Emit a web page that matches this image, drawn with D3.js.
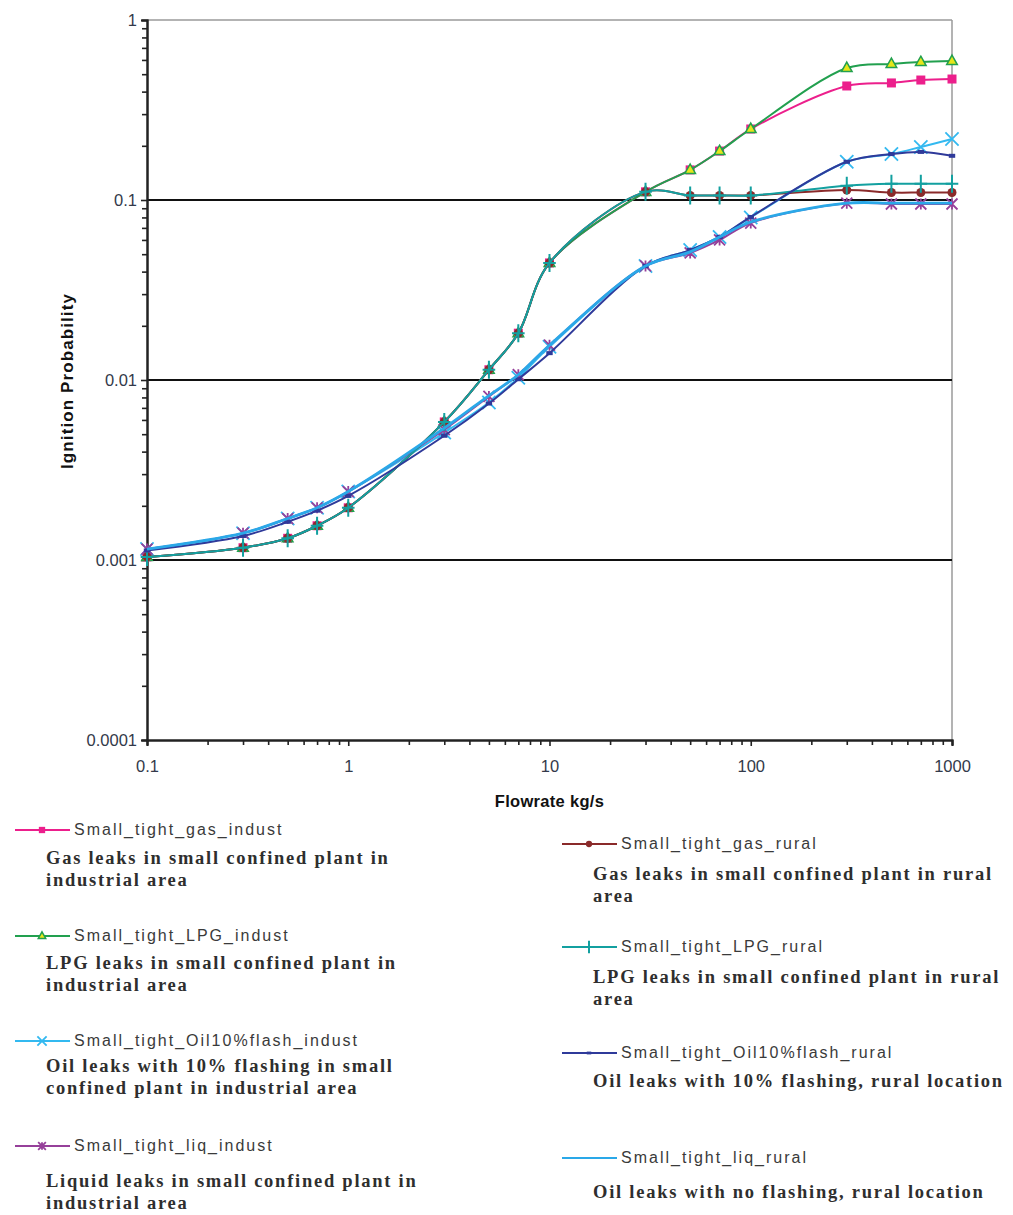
<!DOCTYPE html>
<html>
<head>
<meta charset="utf-8">
<script src="https://cdn.jsdelivr.net/npm/d3@7"></script>
<style>
  body { margin: 0; background: #fff; }
  svg { display: block; }
</style>
</head>
<body>
<div id="chart"></div>
<script>
// Flowrate points (kg/s) shared by every series
const flowrates = [0.1, 0.3, 0.5, 0.7, 1, 3, 5, 7, 10, 30, 50, 70, 100, 300, 500, 700, 1000];

// Ignition probability per series
const gasIndust = [0.00104, 0.00117, 0.00132, 0.00155, 0.00195, 0.00585, 0.0114, 0.0182, 0.0447, 0.111, 0.147, 0.187, 0.248, 0.43, 0.447, 0.464, 0.47];
const lpgIndust = [0.00104, 0.00117, 0.00132, 0.00155, 0.00195, 0.00585, 0.0114, 0.0182, 0.0447, 0.111, 0.147, 0.187, 0.248, 0.541, 0.57, 0.584, 0.592];
const oilIndust = [0.00115, 0.00141, 0.0017, 0.00195, 0.0024, 0.0051, 0.0075, 0.0103, 0.0153, 0.043, 0.0527, 0.0623, 0.08, 0.163, 0.18, 0.197, 0.218];
const liqIndust = [0.00115, 0.00141, 0.0017, 0.00195, 0.0024, 0.0053, 0.0081, 0.0107, 0.0156, 0.043, 0.0508, 0.06, 0.0745, 0.096, 0.095, 0.095, 0.095];
const gasRural = [0.00104, 0.00117, 0.00132, 0.00155, 0.00195, 0.00585, 0.0114, 0.0182, 0.0447, 0.111, 0.106, 0.106, 0.106, 0.1137, 0.11, 0.11, 0.11];
const lpgRural = [0.00104, 0.00117, 0.00132, 0.00155, 0.00195, 0.00585, 0.0114, 0.0182, 0.0447, 0.111, 0.106, 0.106, 0.106, 0.12, 0.123, 0.123, 0.123];
const oilRural = [0.00113, 0.00136, 0.00163, 0.00188, 0.00227, 0.0049, 0.0074, 0.0101, 0.0141, 0.043, 0.0527, 0.0623, 0.0805, 0.163, 0.18, 0.185, 0.176];
const liqRural = [0.00115, 0.00141, 0.0017, 0.00195, 0.0024, 0.0054, 0.0082, 0.0107, 0.0156, 0.043, 0.0515, 0.0623, 0.0755, 0.096, 0.096, 0.096, 0.096];

const seriesValues = [gasIndust, lpgIndust, oilIndust, liqIndust, gasRural, lpgRural, oilRural, liqRural];
const seriesNames = [
  'Small_tight_gas_indust', 'Small_tight_LPG_indust', 'Small_tight_Oil10%flash_indust', 'Small_tight_liq_indust',
  'Small_tight_gas_rural', 'Small_tight_LPG_rural', 'Small_tight_Oil10%flash_rural', 'Small_tight_liq_rural'
];
const seriesDescriptions = [
  ['Gas leaks in small confined plant in', 'industrial area'],
  ['LPG leaks in small confined plant in', 'industrial area'],
  ['Oil leaks with 10% flashing in small', 'confined plant in industrial area'],
  ['Liquid leaks in small confined plant in', 'industrial area'],
  ['Gas leaks in small confined plant in rural', 'area'],
  ['LPG leaks in small confined plant in rural', 'area'],
  ['Oil leaks with 10% flashing, rural location'],
  ['Oil leaks with no flashing, rural location']
];
const seriesMarkers = ['square', 'triangle', 'cross', 'asterisk', 'circle', 'plus', 'dash', 'none'];

const yTicks = [0.0001, 0.001, 0.01, 0.1, 1];
const xTicks = [0.1, 1, 10, 100, 1000];
const gridValues = [0.001, 0.01, 0.1];

// --- colours ---
const lineColors = ['#ec1f8c', '#22a04f', '#33b9f0', '#96409a', '#8a2a2a', '#13a0a0', '#2f3a9a', '#2aa8e8'];

const W = 1013, H = 1215;
const plot = { left: 147, right: 952, top: 20, bottom: 740 };

const svg = d3.select('#chart').append('svg')
  .attr('width', W).attr('height', H)
  .style('font-family', 'Arial, "Liberation Sans", sans-serif');

const x = d3.scaleLog().domain([0.1, 1000]).range([plot.left, plot.right]);
const y = d3.scaleLog().domain([0.0001, 1]).range([plot.bottom, plot.top]);

// minor tick values for each decade
const minorX = [], minorY = [];
[0.1, 1, 10, 100].forEach(d => { for (let k = 2; k <= 9; k++) minorX.push(d * k); });
[0.0001, 0.001, 0.01, 0.1].forEach(d => { for (let k = 2; k <= 9; k++) minorY.push(d * k); });

// frame: gray top/right edges
svg.append('line')
  .attr('x1', plot.left).attr('x2', plot.right)
  .attr('y1', y(1)).attr('y2', y(1))
  .attr('stroke', '#9a9a9a').attr('stroke-width', 1.5);
svg.append('line')
  .attr('x1', plot.right).attr('x2', plot.right)
  .attr('y1', plot.top).attr('y2', plot.bottom)
  .attr('stroke', '#9a9a9a').attr('stroke-width', 1.5);

// horizontal grid lines
svg.append('g').selectAll('line')
  .data(gridValues).enter().append('line')
  .attr('x1', plot.left).attr('x2', plot.right)
  .attr('y1', d => y(d)).attr('y2', d => y(d))
  .attr('stroke', '#111').attr('stroke-width', 2);

// axes
function styleAxis(g) {
  g.select('.domain').attr('stroke', '#222').attr('stroke-width', 2);
  g.selectAll('.tick line').attr('stroke', '#222').attr('stroke-width', 1.6);
  g.selectAll('.tick text')
    .attr('fill', '#333a4a')
    .style('font-size', '16.5px')
    .style('font-family', 'Arial, "Liberation Sans", sans-serif');
}

svg.append('g')
  .attr('transform', `translate(${plot.left},0)`)
  .call(d3.axisLeft(y).tickValues(minorY).tickSize(5).tickFormat(''))
  .call(styleAxis);
svg.append('g')
  .attr('transform', `translate(${plot.left},0)`)
  .call(d3.axisLeft(y).tickValues(yTicks).tickSize(6).tickPadding(4).tickFormat(d3.format('~g')))
  .call(styleAxis);

svg.append('g')
  .attr('transform', `translate(0,${plot.bottom})`)
  .call(d3.axisBottom(x).tickValues(minorX).tickSize(5).tickFormat(''))
  .call(styleAxis);
svg.append('g')
  .attr('transform', `translate(0,${plot.bottom})`)
  .call(d3.axisBottom(x).tickValues(xTicks).tickSize(6).tickPadding(14).tickFormat(d3.format('~g')))
  .call(styleAxis);

// axis titles
svg.append('text')
  .attr('x', (plot.left + plot.right) / 2)
  .attr('y', 807)
  .attr('text-anchor', 'middle')
  .style('font-size', '16.5px')
  .style('font-weight', 'bold')
  .style('letter-spacing', '0.3px')
  .attr('fill', '#111')
  .text('Flowrate kg/s');

svg.append('text')
  .attr('transform', `translate(73,${(plot.top + plot.bottom) / 2 + 1}) rotate(-90)`)
  .attr('text-anchor', 'middle')
  .style('font-size', '17px')
  .style('font-weight', 'bold')
  .style('letter-spacing', '1.1px')
  .attr('fill', '#111')
  .text('Ignition Probability');

// marker drawing
function drawMarker(g, type, color, s) {
  if (type === 'square') {
    g.append('rect').attr('x', -s / 2).attr('y', -s / 2).attr('width', s).attr('height', s).attr('fill', color);
  } else if (type === 'triangle') {
    const r = s * 0.62;
    g.append('path').attr('d', `M0,${-r}L${r * 0.9},${r * 0.6}L${-r * 0.9},${r * 0.6}Z`)
      .attr('fill', '#e6e61a').attr('stroke', color).attr('stroke-width', 1.5);
  } else if (type === 'circle') {
    g.append('circle').attr('r', s * 0.5).attr('fill', color);
  } else if (type === 'cross') {
    const r = s * 0.6;
    g.append('path').attr('d', `M${-r},${-r}L${r},${r}M${-r},${r}L${r},${-r}`)
      .attr('stroke', color).attr('stroke-width', 1.8).attr('fill', 'none');
  } else if (type === 'asterisk') {
    const r = s * 0.55;
    g.append('path').attr('d', `M${-r},${-r}L${r},${r}M${-r},${r}L${r},${-r}M0,${-r}L0,${r}`)
      .attr('stroke', color).attr('stroke-width', 1.8).attr('fill', 'none');
  } else if (type === 'plus') {
    const r = s * 0.75;
    g.append('path').attr('d', `M0,${-r}L0,${r}M${-r * 0.7},0L${r * 0.7},0`)
      .attr('stroke', color).attr('stroke-width', 2).attr('fill', 'none');
  } else if (type === 'dash') {
    g.append('rect').attr('x', -s * 0.4).attr('y', -s * 0.25).attr('width', s * 0.8).attr('height', s * 0.5).attr('fill', color);
  }
}

const markerSizes = [9, 9.5, 11, 10, 9, 12, 8, 0];

// lines
const line = d3.line()
  .x(d => x(d[0]))
  .y(d => y(d[1]))
  .curve(d3.curveCatmullRom.alpha(0.5));

seriesValues.forEach((vals, i) => {
  const pts = flowrates.map((f, j) => [f, vals[j]]);
  const g = svg.append('g').attr('class', 'series');
  g.append('path')
    .attr('d', line(pts))
    .attr('fill', 'none')
    .attr('stroke', lineColors[i])
    .attr('stroke-width', i === 7 ? 2.8 : 2);
  if (seriesMarkers[i] !== 'none') {
    pts.forEach(p => {
      const m = g.append('g').attr('transform', `translate(${x(p[0])},${y(p[1])})`);
      drawMarker(m, seriesMarkers[i], lineColors[i], markerSizes[i]);
    });
  }
});

// legend layout
const legendPos = [
  { sx: 15, sy: 830, dx: 46, dy: 858 },
  { sx: 15, sy: 936, dx: 46, dy: 963 },
  { sx: 15, sy: 1041, dx: 46, dy: 1066 },
  { sx: 15, sy: 1146, dx: 46, dy: 1181 },
  { sx: 562, sy: 844, dx: 593, dy: 874 },
  { sx: 562, sy: 947, dx: 593, dy: 977 },
  { sx: 562, sy: 1053, dx: 593, dy: 1081 },
  { sx: 562, sy: 1158, dx: 593, dy: 1192 }
];

const legend = svg.append('g').attr('class', 'legend');
seriesNames.forEach((name, i) => {
  const p = legendPos[i];
  const g = legend.append('g');
  g.append('line')
    .attr('x1', p.sx).attr('x2', p.sx + 55)
    .attr('y1', p.sy).attr('y2', p.sy)
    .attr('stroke', lineColors[i]).attr('stroke-width', 2);
  const m = g.append('g').attr('transform', `translate(${p.sx + 27},${p.sy})`);
  drawMarker(m, seriesMarkers[i], lineColors[i], markerSizes[i] * 0.7);
  g.append('text')
    .attr('x', p.sx + 59).attr('y', p.sy + 5)
    .style('font-size', '16px')
    .style('letter-spacing', '2px')
    .attr('fill', '#3a3a3a')
    .text(name);
  seriesDescriptions[i].forEach((ln, k) => {
    g.append('text')
      .attr('x', p.dx).attr('y', p.dy + k * 22 + 6)
      .style('font-family', '"Liberation Serif", "Times New Roman", serif')
      .style('font-size', '18.5px')
      .style('font-weight', 'bold')
      .style('letter-spacing', '1.75px')
      .attr('fill', '#2e2e2e')
      .text(ln);
  });
});
</script>
</body>
</html>
